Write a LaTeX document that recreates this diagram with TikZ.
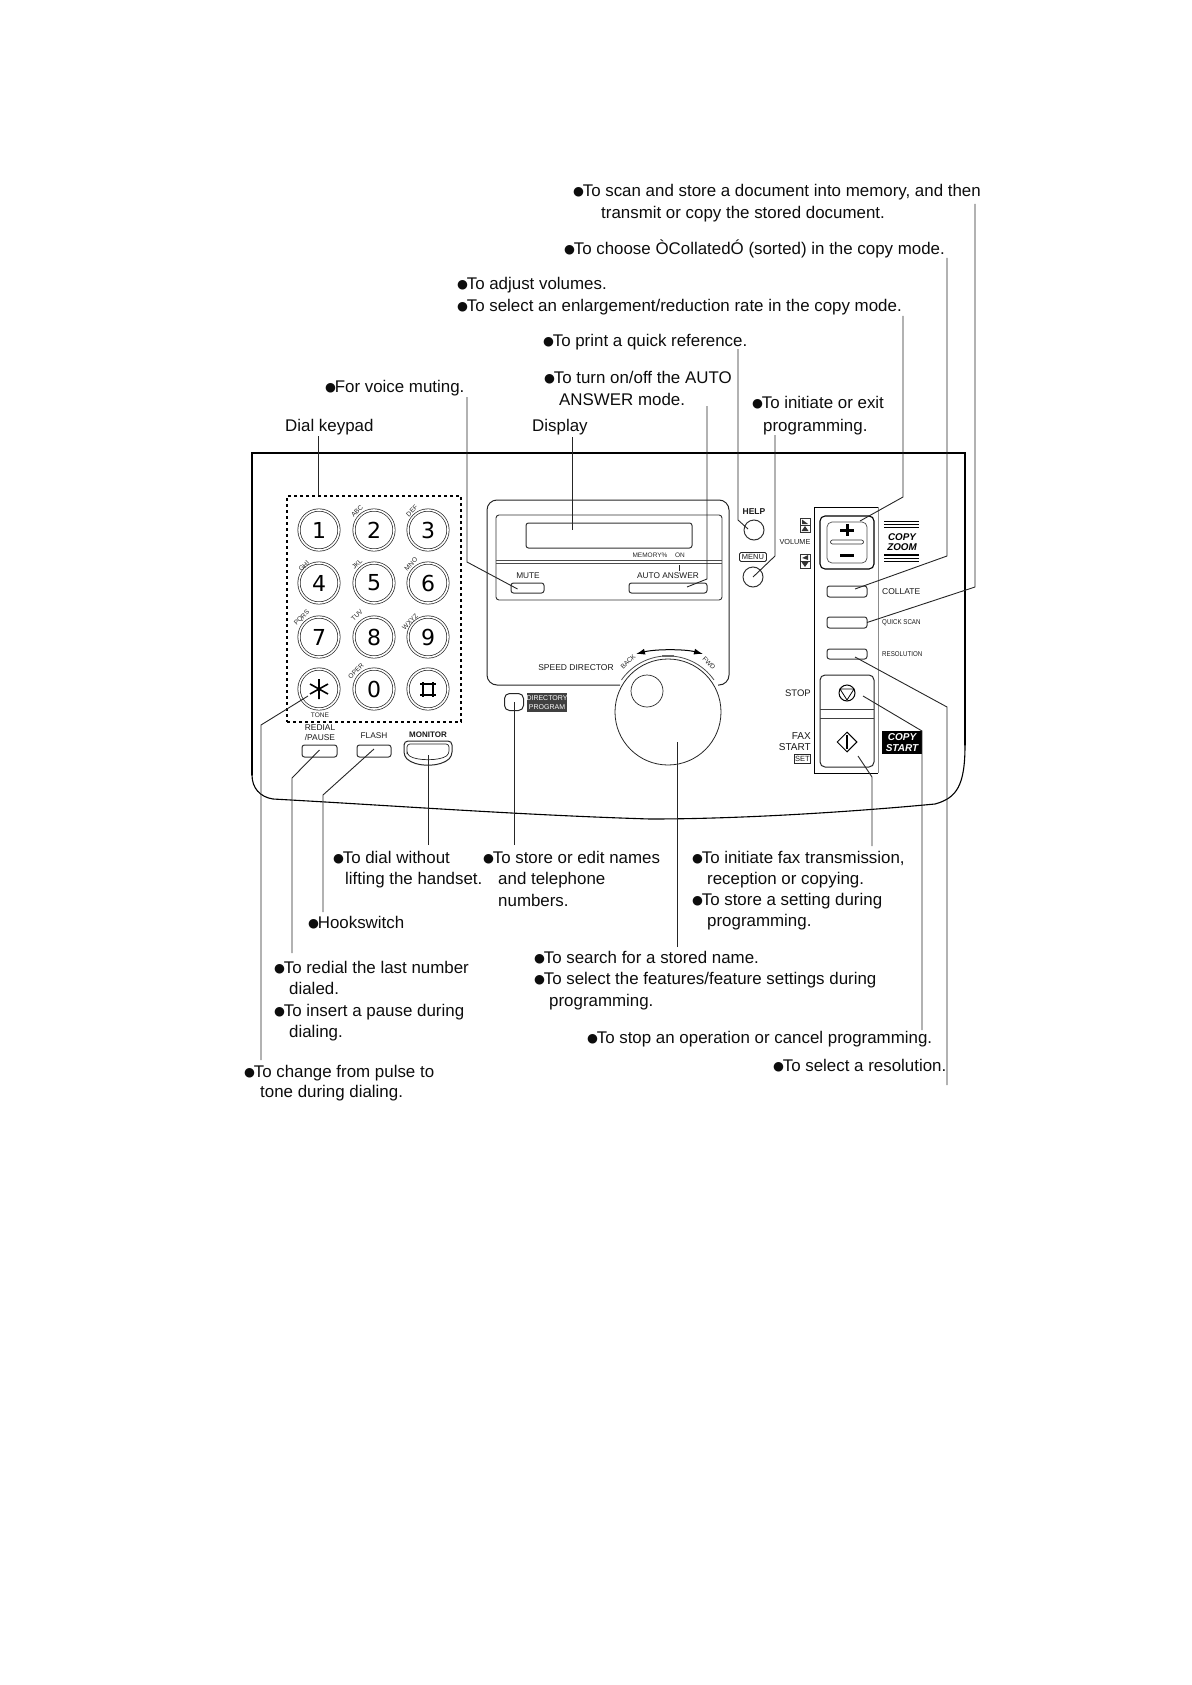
\documentclass[tikz,border=0pt]{standalone}
\usepackage{fontspec}
\setmainfont{Liberation Sans}
\newfontfamily\bulfont{DejaVu Sans}
\usetikzlibrary{arrows.meta,shapes.geometric}
\newcommand{\B}{\kern-1pt\raisebox{1pt}{\bulfont\fontsize{12.5}{10}\selectfont ●}\kern-1.3pt}
\tikzset{
 txt/.style={anchor=base west,inner sep=0pt,yshift=-5.3pt,font=\fontsize{16.9}{18}\selectfont,text=black!95},
 lab/.style={inner sep=0pt,font=\fontsize{8.3}{9}\selectfont,text=black!90},
 tinylab/.style={inner sep=0pt,font=\fontsize{6.6}{7}\selectfont,text=black!85},
 lead/.style={draw=black!85,line width=0.9pt},
 keybtn/.style={circle,draw=black!85,line width=0.7pt,double,double distance=1.6pt,minimum size=40pt,inner sep=0pt,font=\bulfont\fontsize{22}{22}\selectfont},
 btn/.style={rectangle,rounded corners=2.5pt,draw=black!80,line width=1pt,inner sep=0pt},
 rbtn/.style={circle,draw=black!80,line width=1pt,minimum size=20pt,inner sep=0pt},
 badge/.style={rectangle,fill=black,text=white,inner sep=0pt,font=\bfseries\itshape\fontsize{10}{11}\selectfont,align=center}
}
\newcommand{\boxat}[6][btn]{\node[#1,minimum width=#4pt-#2pt,minimum height=#5pt-#3pt] (#6) at ({(#2+#4)/2},{(#3+#5)/2}) {};}
\begin{document}
\begin{tikzpicture}[x=1pt,y=-1pt]
\useasboundingbox (0,0) rectangle (1191,1685);
% housing
\draw[black,line width=1.2pt,line cap=round] (252,775) -- (252,453) -- (965,453) -- (965,745);
\draw[black,line width=1.1pt] (965,745) .. controls (965,785) and (957,798) .. (935,804) .. controls (850,812) and (740,819) .. (650,819) .. controls (520,815) and (400,806) .. (273,799) .. controls (260,797) and (252,788) .. (252,775);
% keypad
\node[rectangle,draw=black,dashed,line width=1.1pt,minimum width=174pt,minimum height=226pt,inner sep=0pt] (pad) at (374,609) {};
\foreach \n/\x/\y/\t in {1/319/530/1,2/374/530/2,3/428/530/3,4/319/583/4,5/374/583/5,6/428/583/6,7/319/637/7,8/374/637/8,9/428/637/9,star/319/689/{},0/374/689/0,hash/428/689/{}}
  \node[keybtn] (k\n) at (\x,\y) {\t};
\draw[black,line width=1.6pt] (319,679) -- (319,699) (310,684) -- (328,694) (310,694) -- (328,684);
\draw[black,line width=1.5pt] (423,682) -- (423,697) (433,682) -- (433,697) (420,684) -- (436,684) (420,695) -- (436,695);
\foreach \n/\x/\y/\t in {abc/357/511/ABC,def/412/511/DEF,ghi/304/566/GHI,jkl/357/564/JKL,mno/411/564/MNO,pqrs/302/618/PQRS,tuv/357/615/TUV,wxyz/410/622/WXYZ,oper/356/671/OPER}
  \node[tinylab,rotate=45] (t\n) at (\x,\y) {\t};
\node[tinylab] (ttone) at (320,715) {TONE};
\node[lab,align=center,font=\fontsize{8.4}{10}\selectfont] (tredial) at (320,733) {REDIAL\\/PAUSE};
\node[lab] (tflash) at (374,736) {FLASH};
\node[lab,font=\bfseries\fontsize{8}{9}\selectfont] (tmonitor) at (428,735) {MONITOR};
\boxat{302}{745}{337}{757}{redial}
\boxat{357}{745}{391}{757}{flash}
\draw[black!85,line width=1pt,rounded corners=4pt] (404,748) -- (404,741) -- (452,741) -- (452,756) .. controls (445,763) and (436,765) .. (428,765) .. controls (420,765) and (411,763) .. (404,756) -- cycle;
\draw[black!85,line width=0.7pt,rounded corners=3pt] (407,751) -- (407,744) -- (449,744) -- (449,754) .. controls (440,761) and (416,761) .. (407,754) -- cycle;
\node[inner sep=0pt,minimum width=48pt,minimum height=24pt] (monitor) at (428,753) {};
% display section
\draw[black!85,line width=1pt,rounded corners=10pt] (620,685) -- (487,685) -- (487,500) -- (729,500) -- (729,685) -- (718,685);
\draw[black!80,line width=0.9pt,rounded corners=3pt] (496,600) -- (496,515) -- (722,515) -- (722,600) -- cycle;
\draw[black!70,line width=1pt] (496,560.5) -- (722,560.5) (496,563) -- (722,563);
\boxat{526}{523}{692}{548}{lcd}
\node[tinylab,font=\fontsize{6.5}{7}\selectfont] (tmem) at (650,555) {MEMORY\%};
\node[tinylab,font=\fontsize{6.5}{7}\selectfont] (ton) at (680,555) {ON};
\draw[black!85,line width=0.8pt] (679,565) -- (679,571);
\node[lab] (tmute) at (528,576) {MUTE};
\node[lab] (tauto) at (668,576) {AUTO ANSWER};
\boxat{511}{583}{544}{593}{mute}
\boxat{629}{583}{707}{593}{auto}
\node[lab,font=\fontsize{8.5}{9}\selectfont] (tspeed) at (576,668) {SPEED DIRECTOR};
\node[tinylab,rotate=45] (tback) at (628,662) {BACK};
\node[tinylab,rotate=-45] (tfwd) at (709,663) {FWD};
\draw[black,line width=1pt,{Latex[length=9pt,width=6pt]}-{Latex[length=9pt,width=6pt]}] (636,654) .. controls (655,649) and (685,649) .. (703,654);
% dial
\node[circle,draw=black!85,line width=0.8pt,minimum size=106pt,inner sep=0pt] (dial) at (668,712) {};
\draw[black!70,line width=0.8pt] (714,680) arc[start angle=35,end angle=145,radius=56.5pt];
\draw[black!60,line width=2pt] (662,656) -- (674,656);
\node[circle,draw=black!85,line width=0.7pt,minimum size=32pt,inner sep=0pt] (dimple) at (647,691) {};
% directory
\node[rectangle,rounded corners=5pt,draw=black!85,line width=1pt,minimum width=19pt,minimum height=17pt,inner sep=0pt] (dirbtn) at (514,702) {};
\node[rectangle,fill=black!75,text=white,inner sep=0pt,minimum width=38pt,minimum height=19pt,align=center,font=\fontsize{7}{8.2}\selectfont] (dirbadge) at (547,702.5) {DIRECTORY\\PROGRAM};
% help menu
\node[lab,font=\bfseries\fontsize{8.5}{9}\selectfont] (thelp) at (754,512) {HELP};
\node[rbtn] (help) at (754,530) {};
\node[lab,rectangle,draw=black!85,rounded corners=1.5pt,line width=0.8pt,minimum width=27pt,minimum height=9pt,font=\fontsize{7.5}{8}\selectfont] (tmenu) at (753,557) {MENU};
\node[rbtn] (menu) at (753,577) {};
% right panel
\draw[black,line width=1pt] (878,507) -- (814,507) -- (814,773) -- (878,773);
\draw[black!45,line width=0.6pt] (878,507) -- (878,773);
\node[lab,font=\fontsize{7.3}{8}\selectfont] (tvol) at (795,542) {VOLUME};
\boxat[rectangle,draw=black!80,line width=0.8pt,inner sep=0pt]{800}{518}{810}{532}{volup}
\boxat[rectangle,draw=black!80,line width=0.8pt,inner sep=0pt]{800}{554}{810}{568}{voldn}
\fill[black!80] (805,526) -- (801.5,531) -- (808.5,531) -- cycle;
\draw[black!80,line width=0.7pt] (800,525) -- (810,525) (800,561) -- (810,561);
\fill[black!80] (802,519.5) -- (802,524) -- (808,524) -- cycle;
\fill[black!80] (805,567) -- (801.5,562) -- (808.5,562) -- cycle;
\fill[black!80] (802,558) -- (808,555) -- (808,560) -- cycle;
\node[rectangle,rounded corners=5pt,draw=black,line width=1.1pt,minimum width=54pt,minimum height=53pt,inner sep=0pt] (zoomout) at (847,542.5) {};
\node[rectangle,rounded corners=5pt,draw=black!70,line width=0.7pt,minimum width=40pt,minimum height=41pt,inner sep=0pt] (zoomin) at (847,542.5) {};
\draw[black,line width=3pt] (847,524) -- (847,536) (840,530) -- (854,530);
\draw[black,line width=3pt] (840,555) -- (854,555);
\node[rectangle,rounded corners=2pt,draw=black!80,line width=0.7pt,minimum width=33pt,minimum height=4pt,inner sep=0pt] (zoomslot) at (847,542) {};
\draw[black,line width=1pt] (884,521.5) -- (919,521.5) (884,524.5) -- (919,524.5);
\draw[black,line width=1.4pt] (884,527.5) -- (919,527.5);
\draw[black,line width=1.4pt] (884,555) -- (919,555);
\draw[black,line width=1pt] (884,558.5) -- (919,558.5) (884,561.5) -- (919,561.5);
\node[inner sep=0pt,align=center,text=black,font=\bfseries\itshape\fontsize{9.8}{10.5}\selectfont] (tcopyzoom) at (902,542) {COPY\\ZOOM};
\boxat{827}{586}{867}{597}{collate}
\boxat{827}{617}{867}{628}{quick}
\boxat{827}{649}{867}{659}{resol}
\node[lab,anchor=west,font=\fontsize{8.5}{9}\selectfont] (tcoll) at (882,592) {COLLATE};
\node[lab,anchor=west,font=\fontsize{7}{8}\selectfont] (tquick) at (882,623) {\scalebox{.88}[1]{QUICK SCAN}};
\node[lab,anchor=west,font=\fontsize{7}{8}\selectfont] (tres) at (882,654) {\scalebox{.88}[1]{RESOLUTION}};
\node[rectangle,rounded corners=5pt,draw=black!85,line width=1pt,minimum width=54pt,minimum height=92pt,inner sep=0pt] (ssbox) at (847,721) {};
\draw[black!75,line width=0.8pt] (820,709) -- (874,709) (820,718) -- (874,718);
\node[circle,draw=black,line width=1pt,minimum size=16pt,inner sep=0pt] (stop) at (847,693) {};
\draw[black,line width=0.8pt] (840,689) -- (854,689) -- (847,700) -- cycle;
\node[diamond,draw=black,line width=1pt,minimum size=20pt,inner sep=0pt,aspect=1] (start) at (847,742) {};
\draw[black,line width=1.6pt] (847,735) -- (847,749);
\node[lab,anchor=east,font=\fontsize{9.5}{10}\selectfont] (tstop) at (811,693) {STOP};
\node[lab,anchor=east,align=right,font=\fontsize{10}{11.2}\selectfont] (tfax) at (811,741.5) {FAX\\START};
\node[lab,anchor=east,rectangle,draw=black!85,line width=0.8pt,minimum height=9pt,inner xsep=1pt,font=\fontsize{7.5}{8}\selectfont] (tset) at (811,759) {SET};
\node[badge,minimum width=40pt,minimum height=23pt] (copystart) at (902,742.5) {COPY\\START};
% texts
\node[txt] (a1) at (574,191) {\B To scan and store a document into memory, and then};
\node[txt] (a2) at (601,213) {transmit or copy the stored document.};
\node[txt] (b1) at (565,249) {\B To choose ÒCollatedÓ (sorted) in the copy mode.};
\node[txt] (c1) at (458,284) {\B To adjust volumes.};
\node[txt] (c2) at (458,306) {\B To select an enlargement/reduction rate in the copy mode.};
\node[txt] (d1) at (544,341) {\B To print a quick reference.};
\node[txt] (e1) at (545,378) {\B To turn on/off the AUTO};
\node[txt] (e2) at (559,400) {ANSWER mode.};
\node[txt] (f1) at (753,403) {\B To initiate or exit};
\node[txt] (f2) at (763,426) {programming.};
\node[txt] (g1) at (326,387) {\B For voice muting.};
\node[txt] (h1) at (285,426) {Dial keypad};
\node[txt] (i1) at (532,426) {Display};
\node[txt] (j1) at (334,858) {\B To dial without};
\node[txt] (j2) at (345,879) {lifting the handset.};
\node[txt] (k1t) at (484,858) {\B To store or edit names};
\node[txt] (k2t) at (498,879) {and telephone};
\node[txt] (k3t) at (498,901) {numbers.};
\node[txt] (l1) at (693,858) {\B To initiate fax transmission,};
\node[txt] (l2) at (707,879) {reception or copying.};
\node[txt] (l3) at (693,900) {\B To store a setting during};
\node[txt] (l4) at (707,921) {programming.};
\node[txt] (m1) at (309,923) {\B Hookswitch};
\node[txt] (n1) at (275,968) {\B To redial the last number};
\node[txt] (n2) at (289,989) {dialed.};
\node[txt] (n3) at (275,1011) {\B To insert a pause during};
\node[txt] (n4) at (289,1032) {dialing.};
\node[txt] (o1) at (535,958) {\B To search for a stored name.};
\node[txt] (o2) at (535,979) {\B To select the features/feature settings during};
\node[txt] (o3) at (549,1001) {programming.};
\node[txt] (p1) at (588,1038) {\B To stop an operation or cancel programming.};
\node[txt] (q1) at (774,1066) {\B To select a resolution.};
\node[txt] (r1) at (245,1072) {\B To change from pulse to};
\node[txt] (r2) at (260,1092) {tone during dialing.};
% leader end points
\coordinate (ldial) at (318,436); \coordinate (ldisp) at (572,437);
\coordinate (lmute) at (467,397); \coordinate (lauto) at (707,406);
\coordinate (lhelp) at (738,349); \coordinate (lmenu) at (775,435);
\coordinate (lzoom) at (903,316); \coordinate (lcoll) at (947,258);
\coordinate (lquick) at (975,204); \coordinate (lres) at (947,1085);
\coordinate (lstop) at (922,1030); \coordinate (lfax) at (872,846);
\coordinate (lstar) at (261,1060); \coordinate (lredial) at (292,953);
\coordinate (lflash) at (323,912); \coordinate (lmon) at (428,845);
\coordinate (ldir) at (514,845); \coordinate (lknob) at (677,947);
% leaders
\draw[lead] (ldial) -- (pad.north -| ldial);
\draw[lead] (ldisp) -- ([yshift=5.5pt]lcd.center -| ldisp);
\draw[lead] (lmute) -- (467,562) -- ([xshift=-10pt,yshift=-1pt]mute.center);
\draw[lead] (lauto) -- (707,579) -- ([xshift=19pt,yshift=1pt]auto.center);
\draw[lead] (lhelp) -- (738,520) -- ([xshift=-6pt,yshift=1pt]help.center);
\draw[lead] (lmenu) -- (775,556) -- (menu.center);
\draw[lead] (lzoom) -- (903,497) -- ([xshift=13pt,yshift=21.5pt]zoomin.center);
\draw[lead] (lcoll) -- (947,556) -- ([xshift=8pt,yshift=2.5pt]collate.center);
\draw[lead] (lquick) -- (975,587) -- ([xshift=20pt]quick.center);
\draw[lead] (lres) -- (947,707) -- ([xshift=8pt,yshift=-3pt]resol.center);
\draw[lead] (lstop) -- (922,731) -- ([xshift=16pt,yshift=-3pt]stop.center);
\draw[lead] (lfax) -- (872,777) -- ([xshift=11pt,yshift=-14pt]start.center);
\draw[lead] (lstar) -- (261,725) -- ([xshift=-11pt,yshift=-7pt]kstar.center);
\draw[lead] (lredial) -- (292,778) -- ([yshift=1pt]redial.center);
\draw[lead] (lflash) -- (323,795) -- ([yshift=2pt]flash.center);
\draw[lead] (lmon) -- ([yshift=-2pt]monitor.center);
\draw[lead] (ldir) -- (dirbtn.center);
\draw[lead] (lknob) -- ([xshift=9pt,yshift=-30pt]dial.center);
\end{tikzpicture}
\end{document}
